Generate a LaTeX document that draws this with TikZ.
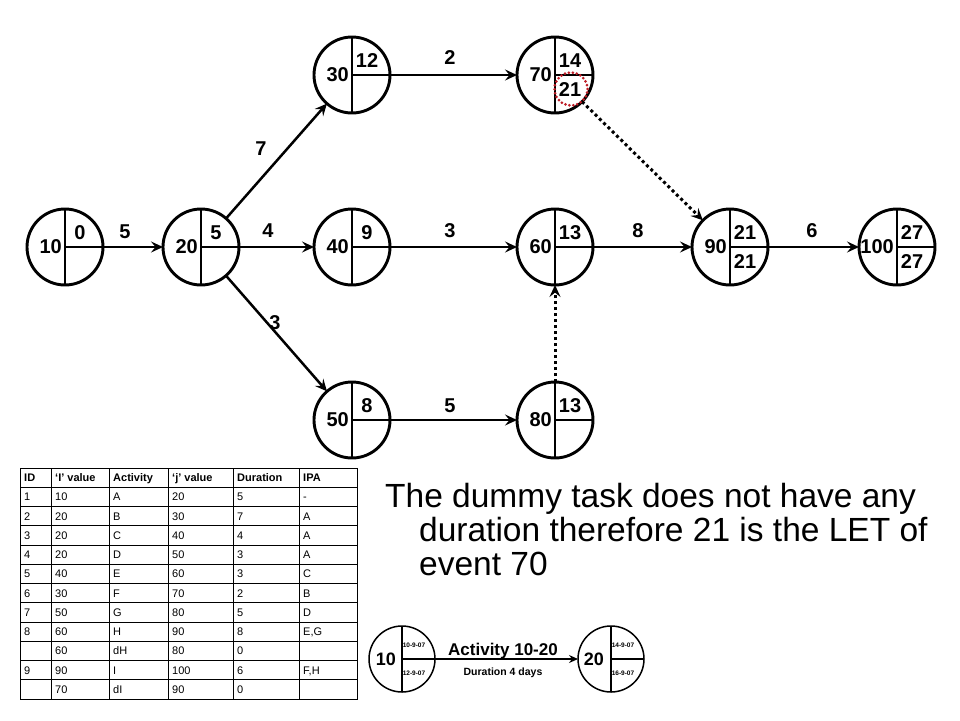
\documentclass[tikz,border=0pt]{standalone}
\usepackage{fontspec}
\setmainfont{Liberation Sans}
\usetikzlibrary{arrows.meta}
\newcommand\evnode[6]{%
  \node[ev] (#1) at (#2,#3) {};
  \draw[evl] (#1.north) -- (#1.south) (#1.center) -- (#1.east);
  \node[num,anchor=east] (#1L) at ([xshift=-3pt]#1.center) {#4};
  \node[num] (#1T) at ([xshift=15pt,yshift=14pt]#1.center) {#5};
  \node[num] (#1B) at ([xshift=15pt,yshift=-15pt]#1.center) {#6};
}
\newcommand\trow[7]{%
  \pgfmathsetmacro\ry{468+19.25*(#1+0.5)+4}%
  \node[cell] (t#1a) at (24,\ry) {#2};
  \node[cell] (t#1b) at (55,\ry) {#3};
  \node[cell] (t#1c) at (113,\ry) {#4};
  \node[cell] (t#1d) at (172,\ry) {#5};
  \node[cell] (t#1e) at (237,\ry) {#6};
  \node[cell] (t#1f) at (303,\ry) {#7};
}
\begin{document}
\begin{tikzpicture}[x=1pt,y=-1pt,
  ev/.style={circle,draw,line width=2.9pt,minimum size=76pt,inner sep=0pt,outer sep=0pt},
  evl/.style={line width=2.9pt},
  num/.style={font=\bfseries\fontsize{20}{24}\selectfont,inner sep=0pt},
  arr/.style={line width=2.5pt,-{Stealth[length=12pt,width=11pt,inset=4.5pt]}},
  dotl/.style={line width=3pt,dash pattern=on 3pt off 3pt},
  cell/.style={anchor=base west,inner sep=0pt,font=\fontsize{11}{13}\selectfont},
  hcell/.style={cell,font=\bfseries\fontsize{11}{13}\selectfont},
  tab/.style={line width=0.9pt},
  big/.style={anchor=base west,inner sep=0pt,font=\fontsize{33.5}{40}\selectfont},
  lev/.style={circle,draw,line width=1.5pt,minimum size=66pt,inner sep=0pt,outer sep=0pt},
  lvl/.style={line width=1.5pt},
  lnum/.style={font=\bfseries\fontsize{18}{21}\selectfont,inner sep=0pt},
  date/.style={font=\bfseries\fontsize{6.5}{8}\selectfont,inner sep=0pt},
  larr/.style={line width=1.8pt,-{Stealth[length=9pt,width=8pt,inset=3pt]}},
  reddot/.style={draw={rgb,255:red,190;green,30;blue,40},line width=3pt,dash pattern=on 0pt off 4pt,line cap=round}
]
\useasboundingbox (0,0) rectangle (960,720);
\fill[white] (0,0) rectangle (960,720);

% events
\evnode{n10}{65}{247}{10}{0}{}
\evnode{n20}{201}{247}{20}{5}{}
\evnode{n30}{352}{75}{30}{12}{}
\evnode{n40}{352}{247}{40}{9}{}
\evnode{n50}{352}{420}{50}{8}{}
\evnode{n60}{555}{247}{60}{13}{}
\evnode{n70}{555}{75}{70}{14}{21}
\evnode{n80}{555}{420}{80}{13}{}
\evnode{n90}{730}{247}{90}{21}{21}
\evnode{n100}{897}{247}{100}{27}{27}

% activities
\draw[arr] (n10) -- (n20);
\draw[arr] (n20) -- (n30);
\draw[arr] (n20) -- (n40);
\draw[arr] (n20) -- (n50);
\draw[arr] (n30) -- (n70);
\draw[arr] (n40) -- (n60);
\draw[arr] (n50) -- (n80);
\draw[arr] (n60) -- (n90);
\draw[arr] (n90) -- (n100);
\draw[arr,dotl] (n70) -- (n90);
\draw[arr,dotl] (n80) -- (n60);

\node[num] (d1) at (125,232) {5};
\node[num] (d2) at (261,149) {7};
\node[num] (d3) at (268,231) {4};
\node[num] (d4) at (275,323) {3};
\node[num] (d5) at (450,58) {2};
\node[num] (d6) at (450,231) {3};
\node[num] (d7) at (450,406) {5};
\node[num] (d8) at (638,231) {8};
\node[num] (d9) at (812,231) {6};

\node[circle,minimum size=33pt,inner sep=0pt,reddot] (rc) at (571,89) {};

% table
\draw[tab] (20,468) rectangle (357,699);
\foreach \i in {1,...,11} \draw[tab] (20,468+19.25*\i) -- (357,468+19.25*\i);
\foreach \c in {51,109,168,233,299} \draw[tab] (\c,468) -- (\c,699);
\pgfmathsetmacro\hy{468+19.25*0.5+4}
\node[hcell] (h1) at (24,\hy) {ID};
\node[hcell] (h2) at (55,\hy) {‘I’ value};
\node[hcell] (h3) at (113,\hy) {Activity};
\node[hcell] (h4) at (172,\hy) {‘j’ value};
\node[hcell] (h5) at (237,\hy) {Duration};
\node[hcell] (h6) at (303,\hy) {IPA};
\trow{1}{1}{10}{A}{20}{5}{-}
\trow{2}{2}{20}{B}{30}{7}{A}
\trow{3}{3}{20}{C}{40}{4}{A}
\trow{4}{4}{20}{D}{50}{3}{A}
\trow{5}{5}{40}{E}{60}{3}{C}
\trow{6}{6}{30}{F}{70}{2}{B}
\trow{7}{7}{50}{G}{80}{5}{D}
\trow{8}{8}{60}{H}{90}{8}{E,G}
\trow{9}{}{60}{dH}{80}{0}{}
\trow{10}{9}{90}{I}{100}{6}{F,H}
\trow{11}{}{70}{dI}{90}{0}{}

% note
\node[big] (tx1) at (385,507) {The dummy task does not have any};
\node[big] (tx2) at (419,541) {duration therefore 21 is the LET of};
\node[big] (tx3) at (419,575) {event 70};

% legend
\node[lev] (g10) at (402,659) {};
\draw[lvl] (g10.north) -- (g10.south) (g10.center) -- (g10.east);
\node[lnum,anchor=east] (g10L) at ([xshift=-6pt]g10.center) {10};
\node[date] (g10T) at ([xshift=12pt,yshift=14pt]g10.center) {10-9-07};
\node[date] (g10B) at ([xshift=12pt,yshift=-14pt]g10.center) {12-9-07};
\node[lev] (g20) at (611,659) {};
\draw[lvl] (g20.north) -- (g20.south) (g20.center) -- (g20.east);
\node[lnum,anchor=east] (g20L) at ([xshift=-7pt]g20.center) {20};
\node[date] (g20T) at ([xshift=12pt,yshift=14pt]g20.center) {14-9-07};
\node[date] (g20B) at ([xshift=12pt,yshift=-14pt]g20.center) {16-9-07};
\draw[larr] (g10) -- (g20);
\node[anchor=base,inner sep=0pt,font=\bfseries\fontsize{17}{20}\selectfont] (act) at (503,655) {Activity 10-20};
\node[anchor=base,inner sep=0pt,font=\bfseries\fontsize{10.5}{12}\selectfont] (dur) at (503,675) {Duration 4 days};
\end{tikzpicture}
\end{document}
